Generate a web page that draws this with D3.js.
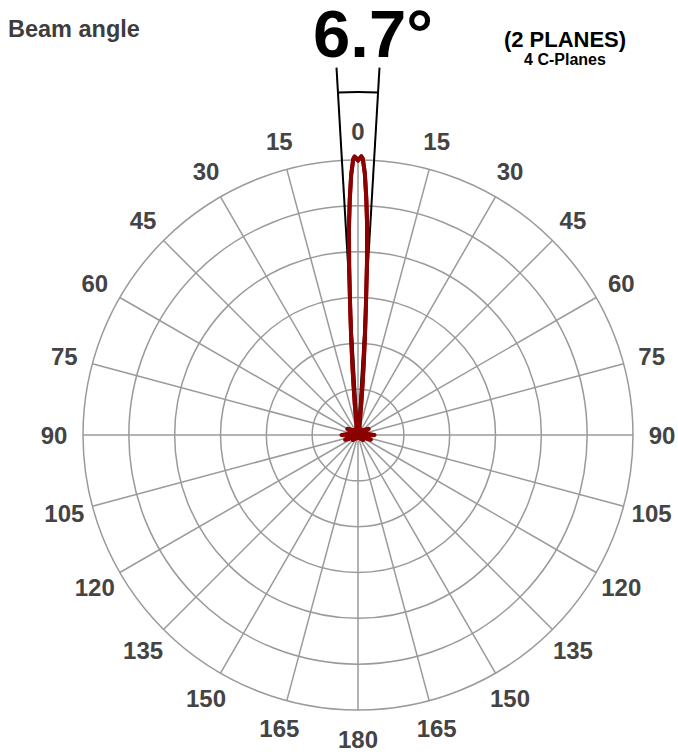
<!DOCTYPE html>
<meta charset="utf-8">
<style>
  body { margin: 0; background: #fff; }
  text { font-family: "Liberation Sans", Arial, sans-serif; font-weight: bold; }
</style>
<script src="https://d3js.org/d3.v7.min.js"></script>
<svg width="678" height="755"></svg>
<script>
// angles in degrees (0 = straight down the beam, drawn at the top)
const angles = [0, 0.5, 0.7, 1, 1.5, 2, 2.5, 3, 3.5, 4, 4.5, 5, 6, 7, 8, 10, 15, 20, 30, 45, 60, 70, 80, 90, 100, 110, 120, 135, 150, 165, 180];
// relative intensity, % of max
const planeC0 = [99.8, 101, 101.4, 100.5, 95, 86, 76, 62, 47, 36, 27, 20, 11, 6, 4, 3, 2.5, 2, 2, 2.5, 4.5, 1.5, 2.5, 6, 2, 5, 1.5, 2.5, 1.2, 1.2, 1.5];
const planeC180 = [99.8, 101, 101.3, 100.3, 94.5, 85.5, 75, 61, 46.5, 35.5, 26.5, 19.5, 11, 6, 4, 3, 2.5, 2, 2, 2.5, 4.5, 1.5, 2.5, 6, 2, 5, 1.5, 2.5, 1.2, 1.2, 1.5];
const planeC90 = [99.8, 100.8, 101.2, 100.4, 95.2, 86.4, 76.5, 62.5, 47.5, 36.5, 27.5, 20, 11.5, 6, 4, 3, 2.5, 2, 2, 2.5, 4, 1.5, 2.5, 5.5, 2, 4.5, 1.5, 2.5, 1.2, 1.2, 1.5];
const planeC270 = [99.8, 100.8, 101.2, 100.2, 94.8, 86, 76, 62, 47, 36, 27, 20, 11, 6, 4, 3, 2.5, 2, 2, 2.5, 4, 1.5, 2.5, 5.5, 2, 4.5, 1.5, 2.5, 1.2, 1.2, 1.5];

const ringValues = [16.67, 33.33, 50, 66.67, 83.33, 100];
const spokeAngles = [0, 15, 30, 45, 60, 75, 90, 105, 120, 135, 150, 165, 180, 195, 210, 225, 240, 255, 270, 285, 300, 315, 330, 345];
const rightLabels = ['15', '30', '45', '60', '75', '90', '105', '120', '135', '150', '165'];
const leftLabels = ['15', '30', '45', '60', '75', '90', '105', '120', '135', '150', '165'];
const beamAngle = 6.7;

const svg = d3.select('svg');
const cx = 358, cy = 435;
const r = d3.scaleLinear().domain([0, 100]).range([0, 275]);
const rad = d => d * Math.PI / 180;

const g = svg.append('g').attr('transform', `translate(${cx},${cy})`);

// grid
g.selectAll('circle.ring')
  .data(ringValues)
  .enter()
  .append('circle')
  .attr('r', d => r(d))
  .attr('fill', 'none')
  .attr('stroke', '#9a9a9a')
  .attr('stroke-width', 1.5);

g.selectAll('line.spoke')
  .data(spokeAngles)
  .enter()
  .append('line')
  .attr('x1', 0).attr('y1', 0)
  .attr('x2', d => r(100) * Math.sin(rad(d)))
  .attr('y2', d => -r(100) * Math.cos(rad(d)))
  .attr('stroke', '#9a9a9a')
  .attr('stroke-width', 1.5);

// angle labels
const labelR = 304;
const lab = (txt, a) => g.append('text')
  .attr('x', labelR * Math.sin(rad(a)))
  .attr('y', -labelR * Math.cos(rad(a)))
  .attr('dy', '0.36em')
  .attr('text-anchor', 'middle')
  .attr('font-size', 24)
  .attr('fill', '#444')
  .text(txt);

lab('0', 0);
lab('180', 180);
rightLabels.forEach(t => lab(t, +t));
leftLabels.forEach(t => lab(t, -t));

// beam angle marker
const half = beamAngle / 2;
[-half, half].forEach(a => {
  g.append('line')
    .attr('x1', 0).attr('y1', 0)
    .attr('x2', 368 * Math.sin(rad(a)))
    .attr('y2', -368 * Math.cos(rad(a)))
    .attr('stroke', '#000')
    .attr('stroke-width', 2);
});
g.append('path')
  .attr('d', d3.arc().innerRadius(343).outerRadius(343).startAngle(rad(-half)).endAngle(rad(half))())
  .attr('fill', 'none')
  .attr('stroke', '#000')
  .attr('stroke-width', 2);

// curves
const radial = d3.lineRadial()
  .angle(d => rad(d[0]))
  .radius(d => r(d[1]));

const plane = (right, left) => {
  const pts = [];
  for (let i = angles.length - 1; i > 0; i--) pts.push([-angles[i], left[i]]);
  for (let i = 0; i < angles.length; i++) pts.push([angles[i], right[i]]);
  return pts;
};

const red = '#8b0000';
[[planeC0, planeC180], [planeC90, planeC270]].forEach(p => {
  const pts = plane(p[0], p[1]);
  // side lobes around the centre are filled solid
  const side = pts.filter(d => Math.abs(d[0]) >= 8);
  const right = side.filter(d => d[0] > 0);
  const left = side.filter(d => d[0] < 0);
  g.append('path')
    .attr('d', radial([[0, 0]].concat(right, left.map(d => [d[0] + 360, d[1]]), [[360, 0]])) + 'Z')
    .attr('fill', red)
    .attr('stroke', red)
    .attr('stroke-width', 1.5)
    .attr('stroke-linejoin', 'miter');
  g.append('path')
    .attr('d', radial(pts))
    .attr('fill', 'none')
    .attr('stroke', red)
    .attr('stroke-width', 4)
    .attr('stroke-linejoin', 'round');
});

// titles
svg.append('text')
  .attr('x', 8).attr('y', 37)
  .attr('font-size', 23.5)
  .attr('fill', '#3d3d3d')
  .text('Beam angle');

svg.append('text')
  .attr('x', 313).attr('y', 57)
  .attr('font-size', 67)
  .attr('fill', '#000')
  .text(beamAngle + '°');

svg.append('text')
  .attr('x', 565).attr('y', 47)
  .attr('text-anchor', 'middle')
  .attr('font-size', 22)
  .attr('fill', '#000')
  .text('(2 PLANES)');

svg.append('text')
  .attr('x', 565).attr('y', 65)
  .attr('text-anchor', 'middle')
  .attr('font-size', 16)
  .attr('fill', '#000')
  .text('4 C-Planes');
</script>
